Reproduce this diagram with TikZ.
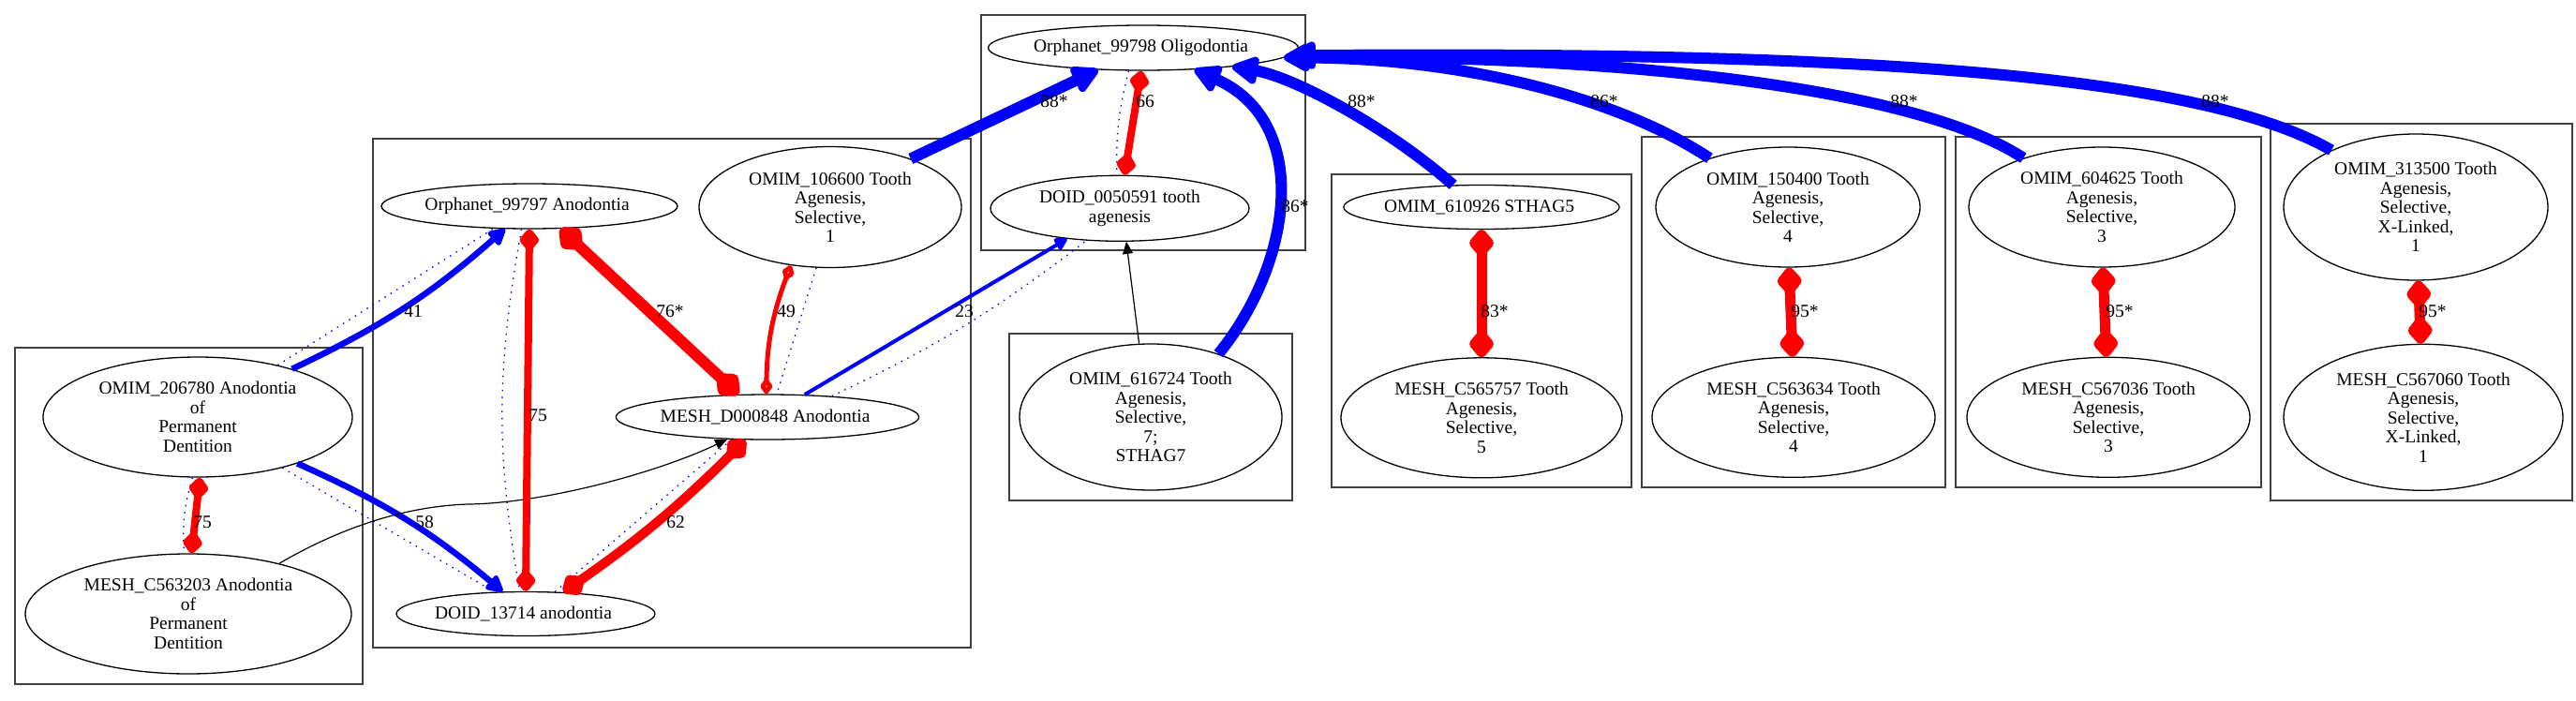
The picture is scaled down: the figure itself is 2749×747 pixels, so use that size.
\documentclass[tikz,border=0pt]{standalone}
\usepackage{fontspec}
\setmainfont{Liberation Serif}
\usepackage{tikz}
\usetikzlibrary{
    shapes.geometric,
    positioning,
    arrows.meta
}
\newcommand{\entfont}{\fontsize{19.5pt}{20.5pt}\selectfont}

\begin{document}
\begin{tikzpicture}[
      x=1pt, y=-1pt,
      % Define styles for the elements
      entity/.style={
          ellipse,
          draw,
          line width=1.3pt,
          inner sep=0pt,
          align=center,
          font=\entfont
        },
      cluster/.style={
          draw=black!75,
          line width=1.8pt
        },
      weight/.style={
          font=\entfont,
          inner sep=0pt
        },
      towards/.style={
          -{Triangle[round, length=7pt 2.1, width=7pt 2.1]}, % Arrow tip style
          blue,
          line width=#1
        },
      mutual/.style={
          {Diamond[round, length=8pt 2.4, width=6pt 2.1]}-{Diamond[round, length=8pt 2.4, width=6pt 2.1]},
          red,
          line width=#1
        },
      openmutual/.style={
          {Diamond[open, round, length=8pt 2.4, width=6pt 1.6]}-{Diamond[open, round, length=8pt 2.4, width=6pt 1.6]},
          red,
          line width=#1
        },
      faint/.style={
          blue,
          line width=1.3pt,
          dash pattern=on 1.5pt off 6pt
        },
      linked/.style={
          -{Triangle[length=13pt, width=11pt]},
          black,
          line width=1.2pt
        }
    ]
    \useasboundingbox (0,0) rectangle (2749,747);

    % Draw the cluster boxes
    \draw[cluster] (16,371) rectangle (387,730);
    \draw[cluster] (398,148) rectangle (1036,691);
    \draw[cluster] (1047,16) rectangle (1393,267);
    \draw[cluster] (1077,356) rectangle (1379,534);
    \draw[cluster] (1421,186) rectangle (1741,520);
    \draw[cluster] (1752,146) rectangle (2076,520);
    \draw[cluster] (2087,146) rectangle (2413,520);
    \draw[cluster] (2423,132) rectangle (2745,534);

    % Place the nodes
    \node[entity, minimum width=330pt, minimum height=128pt] (omim_206780) at (211,445) {
      OMIM\_206780 Anodontia\\of\\Permanent\\Dentition
    };
    \node[entity, minimum width=348pt, minimum height=128pt] (mesh_c563203) at (201,655) {
      MESH\_C563203 Anodontia\\of\\Permanent\\Dentition
    };

    \node[entity, minimum width=316pt, minimum height=48pt] (orphanet_99797) at (565,220) {
      Orphanet\_99797 Anodontia
    };
    \node[entity, minimum width=280pt, minimum height=129pt] (omim_106600) at (886,221) {
      OMIM\_106600 Tooth\\Agenesis,\\Selective,\\1
    };
    \node[entity, minimum width=322pt, minimum height=48pt] (mesh_d000848) at (819,445) {
      MESH\_D000848 Anodontia
    };
    \node[entity, minimum width=276pt, minimum height=47pt] (doid_13714) at (561,655) {
      DOID\_13714 anodontia
    };

    \node[entity, minimum width=326pt, minimum height=48pt] (orphanet_99798) at (1220,51) {
      Orphanet\_99798 Oligodontia
    };
    \node[entity, minimum width=276pt, minimum height=70pt, below=111pt of orphanet_99798, xshift=-25pt] (doid_0050591) {
      DOID\_0050591 tooth\\agenesis
    };

    \node[entity, minimum width=280pt, minimum height=156pt] (omim_616724) at (1228,445) {
      OMIM\_616724 Tooth\\Agenesis,\\Selective,\\7;\\STHAG7
    };

    \node[entity, minimum width=292pt, minimum height=47pt] (omim_610926) at (1581,221) {
      OMIM\_610926 STHAG5
    };
    \node[entity, minimum width=300pt, minimum height=128pt, below=136pt of omim_610926] (mesh_c565757) {
      MESH\_C565757 Tooth\\Agenesis,\\Selective,\\5
    };

    \node[entity, minimum width=282pt, minimum height=128pt] (omim_150400) at (1908,221) {
      OMIM\_150400 Tooth\\Agenesis,\\Selective,\\4
    };
    \node[entity, minimum width=302pt, minimum height=128pt, below=95pt of omim_150400, xshift=6pt] (mesh_c563634) {
      MESH\_C563634 Tooth\\Agenesis,\\Selective,\\4
    };

    \node[entity, minimum width=284pt, minimum height=128pt] (omim_604625) at (2243,221) {
      OMIM\_604625 Tooth\\Agenesis,\\Selective,\\3
    };
    \node[entity, minimum width=302pt, minimum height=128pt, below=95pt of omim_604625, xshift=7pt] (mesh_c567036) {
      MESH\_C567036 Tooth\\Agenesis,\\Selective,\\3
    };

    \node[entity, minimum width=282pt, minimum height=156pt] (omim_313500) at (2578,221) {
      OMIM\_313500 Tooth\\Agenesis,\\Selective,\\X-Linked,\\1
    };
    \node[entity, minimum width=298pt, minimum height=156pt, below=67pt of omim_313500, xshift=8pt] (mesh_c567060) {
      MESH\_C567060 Tooth\\Agenesis,\\Selective,\\X-Linked,\\1
    };

    % Dotted companions of the scored edges
    \draw[faint] (omim_206780.33) -- (orphanet_99797.-148);
    \draw[faint] (omim_206780.-31) -- (doid_13714.145);
    \draw[faint] (omim_206780.-95) to[bend right=10] (mesh_c563203.94);
    \draw[faint] (orphanet_99797.-109) to[bend right=10] (doid_13714.105);
    \draw[faint] (omim_106600.-103) -- (mesh_d000848.68);
    \draw[faint] (doid_13714.37) -- (mesh_d000848.-148);
    \draw[faint] (mesh_d000848.18) to[bend right=6] (doid_0050591.-136);
    \draw[faint] (orphanet_99798.-122) to[bend right=8] (doid_0050591.95);

    % Draw the arrows connecting the nodes
    \draw[towards=6.5pt] (omim_206780.27) to[bend right=8] (orphanet_99797.-137);
    \draw[towards=6.5pt] (omim_206780.-25) to[bend left=8] (doid_13714.136);
    \draw[towards=4pt] (mesh_d000848.31) -- (doid_0050591.-150);
    \draw[towards=12pt] (omim_106600.31) -- (orphanet_99798.-154);
    \draw[towards=12pt] (omim_616724.43) .. controls (1380,280) and (1400,130) .. (orphanet_99798.-23);
    \draw[towards=12pt] (omim_610926.142) .. controls (1480,135) and (1380,82) .. (orphanet_99798.-12);
    \draw[towards=12pt] (omim_150400.148) .. controls (1720,100) and (1550,62) .. (orphanet_99798.-4);
    \draw[towards=12pt] (omim_604625.148) .. controls (2040,90) and (1700,58) .. (orphanet_99798.-4);
    \draw[towards=12pt] (omim_313500.146) .. controls (2340,75) and (1950,55) .. (orphanet_99798.-3);

    \draw[linked] (mesh_c563203.29) .. controls (360,565) and (430,540) .. (500,538)
      .. controls (580,537) and (700,505) .. (mesh_d000848.-151);
    \draw[linked] (omim_616724.99) -- (doid_0050591.-79);

    % Draw the two-way links
    \draw[mutual=8pt] (omim_206780.-88) -- (mesh_c563203.87);
    \draw[mutual=8pt] (orphanet_99797.-90) -- (doid_13714.north);
    \draw[mutual=12pt] (orphanet_99797.-36) -- (mesh_d000848.142);
    \draw[openmutual=5pt] (omim_106600.-124) to[bend right=10] (mesh_d000848.93);
    \draw[mutual=10pt] (doid_13714.30) to[bend right=5] (mesh_d000848.-134);
    \draw[mutual=8pt] (orphanet_99798.-95) -- (doid_0050591.82);
    \draw[mutual=11pt] (omim_610926.south) -- (mesh_c565757.north);
    \draw[mutual=11pt] (omim_150400.-89) -- (mesh_c563634.91);
    \draw[mutual=11pt] (omim_604625.-89) -- (mesh_c567036.92);
    \draw[mutual=11pt] (omim_313500.-88) -- (mesh_c567060.92);

    % Edge scores
    \node[weight] (w41) at (441,332) {41};
    \node[weight] (w58) at (453,557) {58};
    \node[weight] (w75a) at (216,557) {75};
    \node[weight] (w75b) at (574,443) {75};
    \node[weight] (w76) at (715,332) {76*};
    \node[weight] (w49) at (839,332) {49};
    \node[weight] (w62) at (721,557) {62};
    \node[weight] (w23) at (1029,332) {23};
    \node[weight] (w88a) at (1125,108) {88*};
    \node[weight] (w66) at (1222,108) {66};
    \node[weight] (w86a) at (1382,220) {86*};
    \node[weight] (w88b) at (1453,108) {88*};
    \node[weight] (w86b) at (1712,108) {86*};
    \node[weight] (w88c) at (2032,108) {88*};
    \node[weight] (w88d) at (2364,108) {88*};
    \node[weight] (w83) at (1595,332) {83*};
    \node[weight] (w95a) at (1926,332) {95*};
    \node[weight] (w95b) at (2262,332) {95*};
    \node[weight] (w95c) at (2596,332) {95*};

  \end{tikzpicture}
\end{document}
